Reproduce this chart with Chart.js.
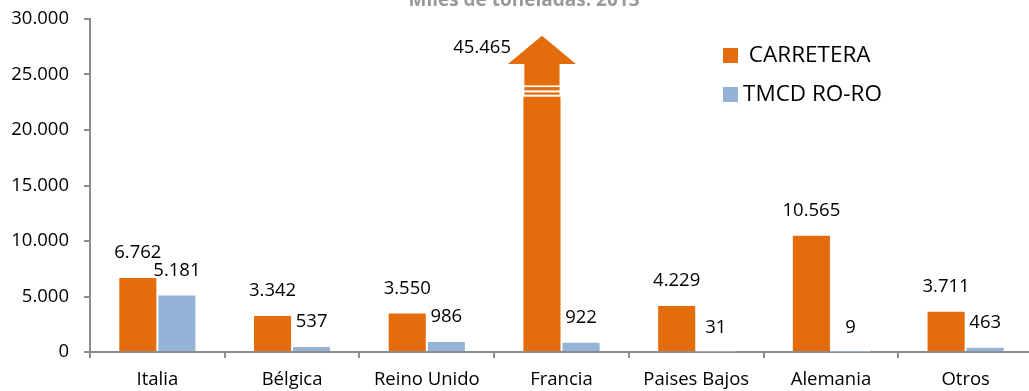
<!DOCTYPE html>
<html>
<head>
<meta charset="utf-8">
<script src="https://cdn.jsdelivr.net/npm/chart.js@4/dist/chart.umd.min.js"></script>
<style>
  html, body { margin: 0; padding: 0; background: #fff; }
  #caja { width: 1029px; height: 391px; overflow: hidden; position: relative; }
  #grafico { position: absolute; left: 0; top: 0; }
</style>
</head>
<body>
<div id="caja">
  <canvas id="grafico" width="1040" height="391"></canvas>
</div>
<script>
// Datos (miles de toneladas, 2013)
const paises = ["Italia", "Bélgica", "Reino Unido", "Francia", "Paises Bajos", "Alemania", "Otros"]
const carretera = [6762, 3342, 3550, 45465, 4229, 10565, 3711]
const tmcdRoRo = [5181, 537, 986, 922, 31, 9, 463]
const ticksEje = [0, 5000, 10000, 15000, 20000, 25000, 30000]

const titulo = "Miles de toneladas. 2013"
const naranja = "#E46C0A"
const azul = "#95B3D7"
const grisEje = "#8C8C8C"

// Corte de la barra que se sale del eje (en unidades del eje)
const corteInferior = 23000
const baseFlecha = 26000
const puntaFlecha = 28500

const fmt = (n) => String(n).replace(/\B(?=(\d{3})+(?!\d))/g, ".")

Chart.defaults.font.family = "'Open Sans', sans-serif"
Chart.defaults.font.size = 18.5
Chart.defaults.color = "#000"

// Barra cortada con flecha para valores fuera de escala
const flechaCorte = {
    id: "flechaCorte",
    afterDatasetsDraw(chart) {
        const ctx = chart.ctx
        const y = chart.scales.y
        const area = chart.chartArea
        const meta = chart.getDatasetMeta(0)
        ctx.save()
        meta.data.forEach((bar, i) => {
            if (carretera[i] <= y.max) return
            const x = bar.x
            const w = bar.width
            const yCorte = y.getPixelForValue(corteInferior)
            const yBase = y.getPixelForValue(baseFlecha)
            const yPunta = y.getPixelForValue(puntaFlecha)

            // borrar la parte superior de la barra
            ctx.fillStyle = "#fff"
            ctx.fillRect(x - w / 2 - 2, area.top - 5, w + 4, yCorte - area.top + 5)

            const mitad = w * 0.45
            ctx.fillStyle = naranja
            ctx.fillRect(x - mitad, yCorte - 4.3, mitad * 2, 2.3)
            ctx.fillRect(x - mitad, yCorte - 9.6, mitad * 2, 3.3)
            ctx.fillRect(x - mitad, yBase, mitad * 2, yCorte - 11.3 - yBase)

            const ancho = w * 0.87
            ctx.beginPath()
            ctx.moveTo(x - ancho, yBase + 0.5)
            ctx.lineTo(x + ancho, yBase + 0.5)
            ctx.lineTo(x, yPunta)
            ctx.closePath()
            ctx.fill()
        })
        ctx.restore()
    }
}

// Etiquetas de valor sobre las barras
const etiquetas = {
    id: "etiquetas",
    afterDatasetsDraw(chart) {
        const ctx = chart.ctx
        const y = chart.scales.y
        ctx.save()
        ctx.font = "18.5px 'Open Sans', sans-serif"
        ctx.fillStyle = "#000"
        ctx.textBaseline = "middle"
        chart.data.datasets.forEach((ds, d) => {
            chart.getDatasetMeta(d).data.forEach((bar, i) => {
                const v = ds.data[i]
                if (v > y.max) {
                    ctx.textAlign = "right"
                    ctx.fillText(fmt(v), bar.x - bar.width * 0.87 + 3, y.getPixelForValue(puntaFlecha) + 12)
                } else {
                    ctx.textAlign = "center"
                    ctx.fillText(fmt(v), bar.x, bar.y - 24)
                }
            })
        })
        ctx.restore()
    }
}

// Título y leyenda
const tituloLeyenda = {
    id: "tituloLeyenda",
    afterDraw(chart) {
        const ctx = chart.ctx
        ctx.save()
        ctx.font = "bold 19px 'Open Sans', sans-serif"
        ctx.fillStyle = "#999"
        ctx.textAlign = "center"
        ctx.textBaseline = "alphabetic"
        ctx.fillText(titulo, 524, 6)

        ctx.font = "22.5px 'Open Sans', sans-serif"
        ctx.textAlign = "left"
        ctx.textBaseline = "middle"
        chart.data.datasets.forEach((ds, d) => {
            const top = 48 + d * 39
            ctx.fillStyle = ds.backgroundColor
            ctx.fillRect(723, top, 15, 15)
            ctx.fillStyle = "#000"
            ctx.fillText(ds.label, 743, top + 8)
        })
        ctx.restore()
    }
}

new Chart(document.getElementById("grafico"), {
    type: "bar",
    data: {
        labels: paises,
        datasets: [
            {
                label: " CARRETERA",
                data: carretera,
                backgroundColor: naranja,
                borderColor: "rgba(255,255,255,0.55)",
                borderWidth: 1,
                categoryPercentage: 0.58,
                barPercentage: 1
            },
            {
                label: "TMCD RO-RO",
                data: tmcdRoRo,
                backgroundColor: azul,
                borderColor: "rgba(255,255,255,0.55)",
                borderWidth: 1,
                categoryPercentage: 0.58,
                barPercentage: 1
            }
        ]
    },
    options: {
        responsive: false,
        animation: false,
        layout: { padding: { top: 19, right: 7, left: 0, bottom: 0 } },
        plugins: {
            legend: { display: false },
            title: { display: false },
            tooltip: { enabled: false }
        },
        scales: {
            x: {
                afterFit: (s) => { s.height = 39 },
                grid: {
                    offset: true,
                    drawOnChartArea: false,
                    tickLength: 6,
                    color: grisEje,
                    lineWidth: 2
                },
                border: { color: grisEje, width: 2 },
                ticks: { padding: 11, color: "#000" }
            },
            y: {
                min: 0,
                max: 30000,
                afterFit: (s) => {
                    s.width = 90
                    s.paddingTop = 0
                    s.paddingBottom = 0
                },
                afterBuildTicks: (s) => { s.ticks = ticksEje.map((v) => ({ value: v })) },
                grid: {
                    drawOnChartArea: false,
                    tickLength: 6,
                    color: grisEje,
                    lineWidth: 2
                },
                border: { color: grisEje, width: 2 },
                ticks: { padding: 15, color: "#000", callback: (v) => fmt(v) }
            }
        }
    },
    plugins: [flechaCorte, etiquetas, tituloLeyenda]
})
</script>
</body>
</html>
